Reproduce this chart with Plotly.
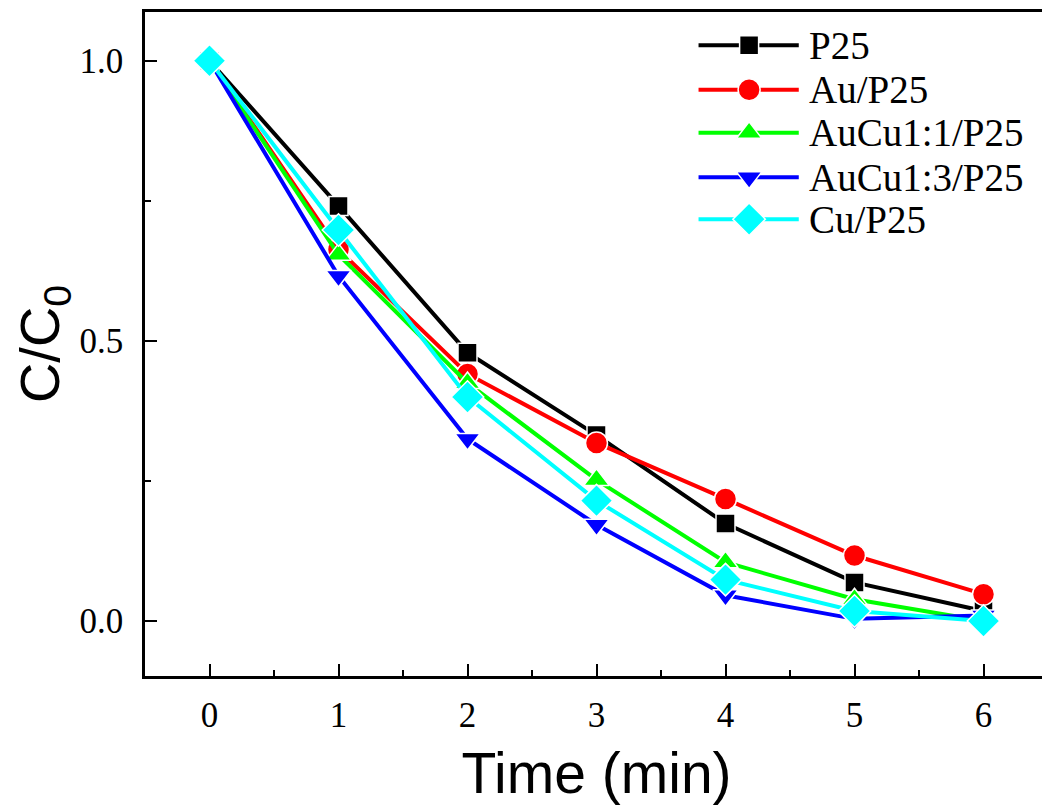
import plotly.graph_objects as go

time_min = [0, 1, 2, 3, 4, 5, 6]
p25 = [1.0, 0.741, 0.479, 0.332, 0.174, 0.069, 0.018]
au_p25 = [1.0, 0.663, 0.441, 0.318, 0.218, 0.117, 0.048]
aucu11_p25 = [1.0, 0.654, 0.425, 0.252, 0.105, 0.039, 0.0]
aucu13_p25 = [1.0, 0.616, 0.325, 0.172, 0.046, 0.004, 0.01]
cu_p25 = [1.0, 0.698, 0.400, 0.215, 0.074, 0.018, 0.0]

series_names = ["P25", "Au/P25", "AuCu1:1/P25", "AuCu1:3/P25", "Cu/P25"]
series_values = [p25, au_p25, aucu11_p25, aucu13_p25, cu_p25]

# styles
colors = ["#000000", "#ff0000", "#00ff00", "#0000ff", "#00ffff"]
symbols = ["square", "circle", "triangle-up", "triangle-down", "diamond"]
sizes = [19, 22, 22, 22, 25]

# legend layout (fractions of the plot area)
leg_x0, leg_xm, leg_x1, leg_text_x = 0.613, 0.669, 0.724, 0.733
leg_rows = [0.950, 0.883, 0.818, 0.751, 0.688]

fig = go.Figure()
for name, vals, color, sym, size in zip(series_names, series_values, colors, symbols, sizes):
    fig.add_trace(go.Scatter(
        x=time_min, y=vals, name=name, mode="lines+markers", showlegend=False,
        line=dict(color=color, width=4),
        marker=dict(symbol=sym, size=size, color=color,
                    line=dict(color="white", width=1.5)),
    ))

# custom legend drawn on an overlay axis spanning the plot area
for name, color, sym, size, ry in zip(series_names, colors, symbols, sizes, leg_rows):
    fig.add_trace(go.Scatter(
        x=[leg_x0, leg_x1], y=[ry, ry], xaxis="x2", yaxis="y2",
        mode="lines", showlegend=False, hoverinfo="skip",
        line=dict(color=color, width=4),
    ))
    fig.add_trace(go.Scatter(
        x=[leg_xm], y=[ry], xaxis="x2", yaxis="y2",
        mode="markers", showlegend=False, hoverinfo="skip",
        marker=dict(symbol=sym, size=size, color=color, opacity=1,
                    line=dict(color="white", width=1.5)),
    ))
    fig.add_annotation(
        x=leg_text_x, y=ry, xref="x2", yref="y2", text=name, showarrow=False,
        xanchor="left", yanchor="middle",
        font=dict(family="Liberation Serif", size=39, color="black"),
    )

axis_common = dict(
    showgrid=False, zeroline=False, showline=True, linecolor="black",
    linewidth=2.5, mirror=True, ticks="inside", tickcolor="black",
    tickwidth=2, ticklen=12,
    tickfont=dict(family="Liberation Serif", size=35, color="black"),
)

xaxis = dict(
    **axis_common, range=[-0.5, 6.5], tickvals=time_min,
    ticklabelstandoff=6,
    minor=dict(ticks="inside", ticklen=6, tickwidth=2, tickcolor="black", dtick=0.5, tick0=0.5),
    title=dict(text="Time (min)", font=dict(family="Liberation Sans", size=57, color="black"), standoff=20),
)
yaxis = dict(
    **axis_common, range=[-0.098, 1.087], tickvals=[0.0, 0.5, 1.0],
    ticktext=["0.0", "0.5", "1.0"], ticklabelstandoff=12,
    minor=dict(ticks="inside", ticklen=6, tickwidth=2, tickcolor="black", dtick=0.25, tick0=0.25),
    title=dict(text="C/C<sub>0</sub>", font=dict(family="Liberation Sans", size=56, color="black"), standoff=16),
)

fig.update_layout(
    width=1050, height=809,
    margin=dict(l=137, r=10, t=1, b=141),
    paper_bgcolor="white", plot_bgcolor="white",
    showlegend=False,
    xaxis=xaxis, yaxis=yaxis,
    xaxis2=dict(overlaying="x", range=[0, 1], visible=False, anchor="y2"),
    yaxis2=dict(overlaying="y", range=[0, 1], visible=False, anchor="x2"),
)

fig.write_html("out.html")
